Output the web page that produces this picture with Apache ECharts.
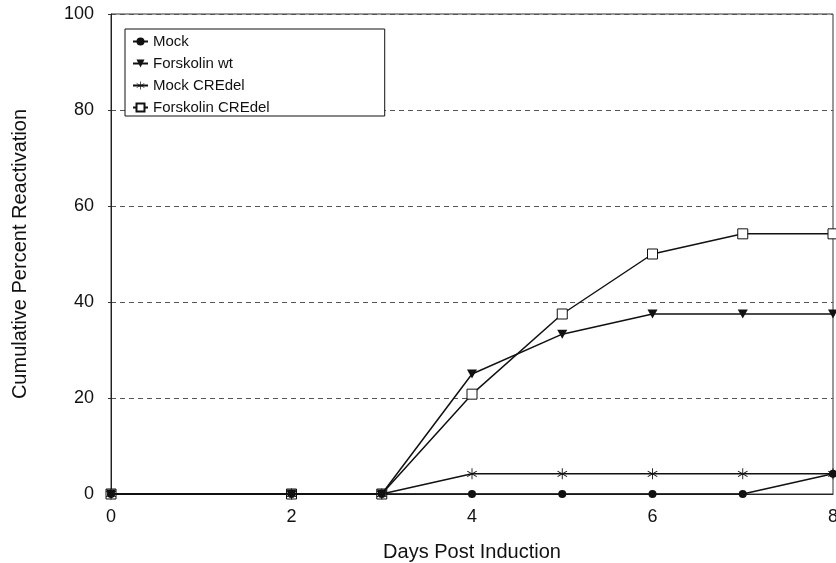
<!DOCTYPE html>
<html>
<head>
<meta charset="utf-8">
<script src="https://cdn.jsdelivr.net/npm/echarts@6/dist/echarts.min.js"></script>
<style>
html,body{margin:0;padding:0;background:#fff;}
#chart{width:836px;height:563px;}
</style>
</head>
<body>
<div id="chart"></div>
<script>
// ---- data ----
var days = [0, 2, 3, 4, 5, 6, 7, 8];
var seriesNames = ["Mock", "Forskolin wt", "Mock CREdel", "Forskolin CREdel"];
var mock = [0, 0, 0, 0, 0, 0, 0, 4.2];
var forskolinWt = [0, 0, 0, 25, 33.3, 37.5, 37.5, 37.5];
var mockCREdel = [0, 0, 0, 4.2, 4.2, 4.2, 4.2, 4.2];
var forskolinCREdel = [0, 0, 0, 20.8, 37.5, 50, 54.2, 54.2];
var xTicks = [0, 2, 4, 6, 8];
var yTicks = [0, 20, 40, 60, 80, 100];

function pairs(vals) {
  return days.map(function (d, i) { return [d, vals[i]]; });
}

// six-armed asterisk symbol path
function asteriskPath() {
  var w = 0.08, parts = [];
  [90, 30, 150].forEach(function (deg) {
    var a = deg * Math.PI / 180;
    var dx = Math.cos(a), dy = Math.sin(a);
    var nx = -dy * w, ny = dx * w;
    var p = [
      [dx + nx, dy + ny], [dx - nx, dy - ny],
      [-dx - nx, -dy - ny], [-dx + nx, -dy + ny]
    ];
    parts.push('M' + p.map(function (q) { return q[0].toFixed(3) + ',' + q[1].toFixed(3); }).join('L') + 'Z');
  });
  return 'path://' + parts.join('');
}

var font = 'Liberation Sans, Arial, Helvetica, sans-serif';
var lineColor = '#111';

var chart = echarts.init(document.getElementById('chart'), null, {renderer: 'canvas'});
chart.setOption({
  animation: false,
  backgroundColor: '#fff',
  textStyle: {fontFamily: font},
  grid: {
    left: 111, right: 3, top: 14, bottom: 69,
    outerBoundsMode: 'none',
    containLabel: false,
    show: true, borderColor: '#333', borderWidth: 1, backgroundColor: 'transparent'
  },
  legend: {
    orient: 'vertical',
    left: 125, top: 29,
    padding: [5, 115, 1, 7],
    itemGap: 7,
    itemWidth: 15,
    itemHeight: 10,
    borderColor: '#111',
    borderWidth: 1,
    backgroundColor: '#fff',
    textStyle: {fontSize: 15, lineHeight: 15, color: '#111', fontFamily: font},
    data: seriesNames
  },
  xAxis: {
    type: 'value',
    min: xTicks[0], max: xTicks[xTicks.length - 1], interval: 2,
    name: 'Days Post Induction',
    nameLocation: 'middle',
    nameGap: 48,
    nameTextStyle: {fontSize: 20, color: '#111', fontFamily: font},
    axisLine: {show: true, lineStyle: {color: '#222', width: 1}},
    axisTick: {show: false},
    splitLine: {show: false},
    axisLabel: {fontSize: 18, color: '#111', margin: 14, fontFamily: font, hideOverlap: false},
    axisPointer: {show: false}
  },
  yAxis: {
    type: 'value',
    min: yTicks[0], max: yTicks[yTicks.length - 1], interval: 20,
    name: 'Cumulative Percent Reactivation',
    nameLocation: 'middle',
    nameGap: 81,
    nameTextStyle: {fontSize: 20, color: '#111', fontFamily: font},
    axisLine: {show: true, lineStyle: {color: '#222', width: 1}},
    axisTick: {show: true, length: 3, lineStyle: {color: '#333'}},
    splitLine: {show: true, lineStyle: {type: [5, 4], color: '#555', width: 1}},
    axisLabel: {fontSize: 18, color: '#111', margin: 17, fontFamily: font}
  },
  series: [
    {
      name: seriesNames[0], type: 'line', data: pairs(mock),
      symbol: 'circle', symbolSize: 8,
      itemStyle: {color: lineColor},
      lineStyle: {color: lineColor, width: 1.5},
      z: 5
    },
    {
      name: seriesNames[1], type: 'line', data: pairs(forskolinWt),
      symbol: 'triangle', symbolRotate: 180, symbolSize: [10, 9],
      itemStyle: {color: lineColor},
      lineStyle: {color: lineColor, width: 1.5},
      z: 4
    },
    {
      name: seriesNames[2], type: 'line', data: pairs(mockCREdel),
      symbol: asteriskPath(), symbolSize: 11, symbolKeepAspect: true,
      itemStyle: {color: lineColor},
      lineStyle: {color: lineColor, width: 1.5},
      z: 3
    },
    {
      name: seriesNames[3], type: 'line', data: pairs(forskolinCREdel),
      symbol: 'rect', symbolSize: 10,
      itemStyle: {color: '#fff', borderColor: lineColor, borderWidth: 1},
      lineStyle: {color: lineColor, width: 1.5},
      z: 2
    }
  ]
});
</script>
</body>
</html>
